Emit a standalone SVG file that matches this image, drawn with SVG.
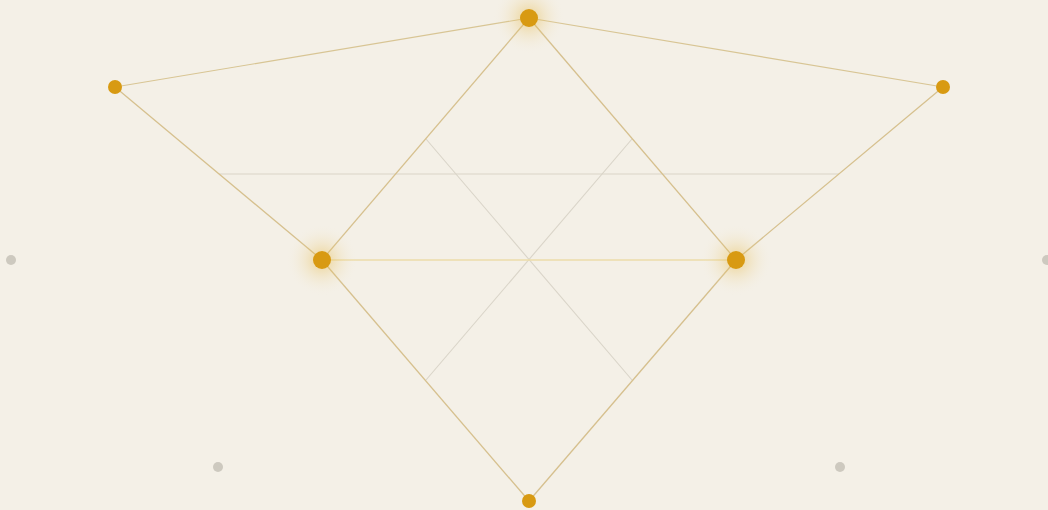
<svg xmlns="http://www.w3.org/2000/svg" width="1048" height="510" viewBox="0 0 1048 510">
<defs>
<radialGradient id="glow">
<stop offset="0" stop-color="#e3b43a" stop-opacity="0.5"/>
<stop offset="0.45" stop-color="#e8c262" stop-opacity="0.2"/>
<stop offset="1" stop-color="#f4f0e6" stop-opacity="0"/>
</radialGradient>
<style>
.edge{stroke:#d6c08e;stroke-width:1.3;fill:none}
.edge-top{stroke:#d8c594;stroke-width:1.2;fill:none}
.edge-mid{stroke:#ecdcaa;stroke-width:1.3;fill:none}
.guide{stroke:#d9d4c8;stroke-width:1.1;fill:none}
.node{fill:#d89a12}
.ghost{fill:#cdc9bf}
</style>
</defs>
<rect width="1048" height="510" fill="#f4f0e7"/>
<g id="connectors">
<line class="guide" x1="219" y1="174" x2="839" y2="174"/>
<line class="guide" x1="426" y1="139" x2="632" y2="380"/>
<line class="guide" x1="632" y1="139" x2="426" y2="380"/>
<line class="edge-top" x1="529" y1="18" x2="115" y2="87"/>
<line class="edge-top" x1="529" y1="18" x2="943" y2="87"/>
<line class="edge" x1="115" y1="87" x2="322" y2="260"/>
<line class="edge" x1="943" y1="87" x2="736" y2="260"/>
<line class="edge" x1="529" y1="18" x2="322" y2="260"/>
<line class="edge" x1="529" y1="18" x2="736" y2="260"/>
<line class="edge" x1="322" y1="260" x2="529" y2="501"/>
<line class="edge" x1="736" y1="260" x2="529" y2="501"/>
<line class="edge-mid" x1="322" y1="260" x2="736" y2="260"/>
</g>
<g id="ghost-left"><circle class="ghost" cx="11" cy="260" r="5"/></g>
<g id="ghost-right"><circle class="ghost" cx="1047" cy="260" r="5"/></g>
<g id="ghost-bl"><circle class="ghost" cx="218" cy="467" r="5"/></g>
<g id="ghost-br"><circle class="ghost" cx="840" cy="467" r="5"/></g>
<g id="node-top"><circle cx="529" cy="18" r="36" fill="url(#glow)"/><circle class="node" cx="529" cy="18" r="9"/></g>
<g id="node-left"><circle class="node" cx="115" cy="87" r="7"/></g>
<g id="node-right"><circle class="node" cx="943" cy="87" r="7"/></g>
<g id="node-midleft"><circle cx="322" cy="260" r="36" fill="url(#glow)"/><circle class="node" cx="322" cy="260" r="9"/></g>
<g id="node-midright"><circle cx="736" cy="260" r="36" fill="url(#glow)"/><circle class="node" cx="736" cy="260" r="9"/></g>
<g id="node-bottom"><circle class="node" cx="529" cy="501" r="7"/></g>
</svg>
